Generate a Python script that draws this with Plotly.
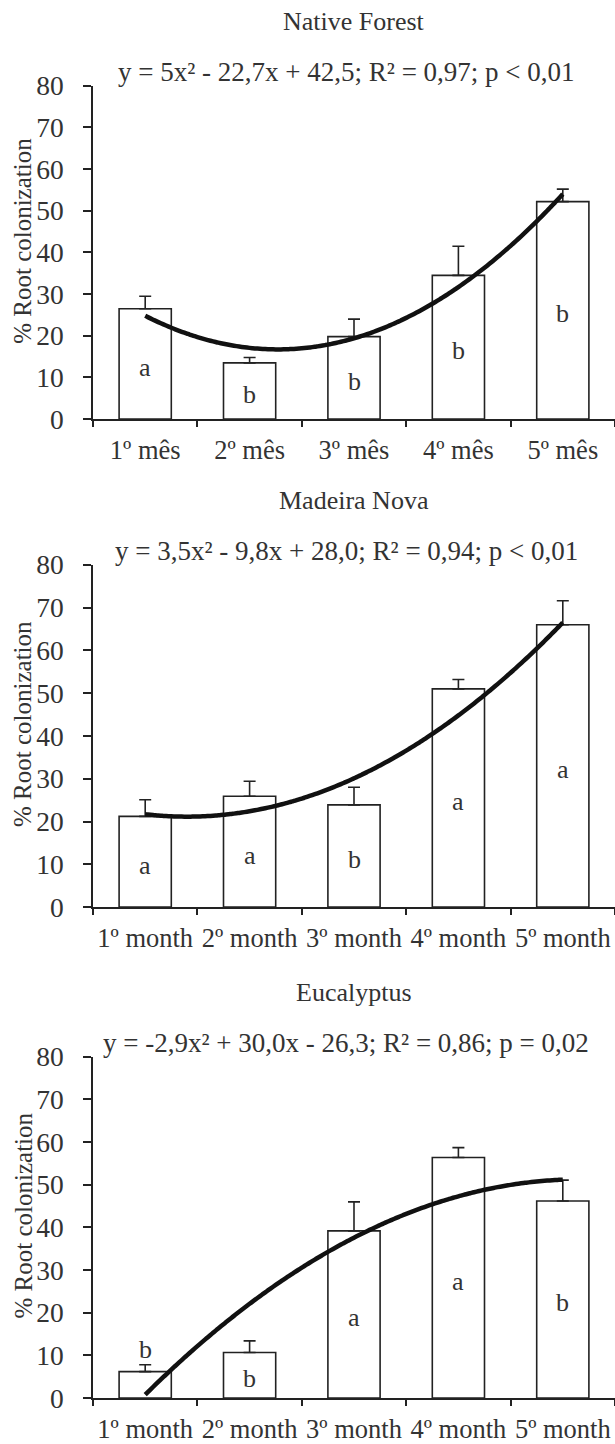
import plotly.graph_objects as go
import numpy as np

# ---------------- data ----------------
months_pt = ["1º mês", "2º mês", "3º mês", "4º mês", "5º mês"]
months_en = ["1º month", "2º month", "3º month", "4º month", "5º month"]

native_vals = [26.5, 13.5, 19.8, 34.5, 52.2]
native_err = [3.0, 1.3, 4.2, 7.0, 3.0]
native_letters = ["a", "b", "b", "b", "b"]
native_coef = [5.0, -22.7, 42.5]

madeira_vals = [21.2, 25.9, 23.9, 51.0, 66.0]
madeira_err = [3.9, 3.5, 4.1, 2.2, 5.6]
madeira_letters = ["a", "a", "b", "a", "a"]
madeira_coef = [3.5, -9.8, 28.0]

euc_vals = [6.2, 10.7, 39.2, 56.4, 46.2]
euc_err = [1.6, 2.7, 6.8, 2.3, 4.9]
euc_letters = ["b", "b", "a", "a", "b"]
euc_coef = [-2.9, 30.0, -26.3]

titles = ["Native Forest", "Madeira Nova", "Eucalyptus"]
equations = [
    "y = 5x² - 22,7x + 42,5; R² = 0,97; p < 0,01",
    "y = 3,5x² - 9,8x + 28,0; R² = 0,94; p < 0,01",
    "y = -2,9x² + 30,0x - 26,3; R² = 0,86; p = 0,02",
]
y_ticks = [0, 10, 20, 30, 40, 50, 60, 70, 80]
y_title = "% Root colonization"

panels = [
    (months_pt, native_vals, native_err, native_letters, native_coef),
    (months_en, madeira_vals, madeira_err, madeira_letters, madeira_coef),
    (months_en, euc_vals, euc_err, euc_letters, euc_coef),
]

# ---------------- layout / style ----------------
W, H = 615, 1444
L_MARGIN = 93
FONT = "Liberation Serif"
TXT = "#333333"
LINE = "#222222"
panel_px = [(86, 420), (566, 909), (1059, 1401)]  # (top, bottom) in pixels
plot_w = W - L_MARGIN


def py(px):
    return 1 - px / H


fig = go.Figure()
annotations = []
layout_axes = {}

for i, (cats, vals, err, letters, coef) in enumerate(panels):
    n = i + 1
    xa = "x" if n == 1 else f"x{n}"
    ya = "y" if n == 1 else f"y{n}"
    xpos = list(range(1, len(cats) + 1))

    fig.add_trace(go.Bar(
        x=xpos, y=vals, width=0.5, xaxis=xa, yaxis=ya,
        marker=dict(color="white", line=dict(color=LINE, width=1.6)),
        error_y=dict(type="data", symmetric=False, array=err,
                     arrayminus=[0] * len(err), color=LINE,
                     thickness=1.6, width=6),
        showlegend=False, hoverinfo="skip",
    ))
    xs = np.linspace(xpos[0], xpos[-1], 161)
    ys = np.polyval(coef, xs)
    fig.add_trace(go.Scatter(
        x=xs, y=ys, mode="lines", xaxis=xa, yaxis=ya,
        line=dict(color="#111111", width=4.5, shape="spline"),
        showlegend=False, hoverinfo="skip",
    ))

    top, bot = panel_px[i]
    xkey = "xaxis" if n == 1 else f"xaxis{n}"
    ykey = "yaxis" if n == 1 else f"yaxis{n}"
    layout_axes[xkey] = dict(
        domain=[0, 1], anchor=ya, range=[0.5, len(cats) + 0.5],
        tickmode="array", tickvals=xpos, ticktext=cats, ticks="",
        showline=True, linecolor=LINE, linewidth=1.6,
        showgrid=False, zeroline=False,
        tickfont=dict(family=FONT, size=26.5, color=TXT),
        ticklabelstandoff=6,
        minor=dict(tickmode="array",
                   tickvals=[k + 0.5 for k in range(len(cats) + 1)],
                   ticks="outside", ticklen=6, tickwidth=1.6,
                   tickcolor=LINE, showgrid=False),
    )
    layout_axes[ykey] = dict(
        domain=[py(bot), py(top)], anchor=xa, range=[0, 80],
        tickmode="array", tickvals=y_ticks, ticks="outside",
        ticklen=8, tickwidth=1.6, tickcolor=LINE,
        showline=True, linecolor=LINE, linewidth=1.6,
        showgrid=False, zeroline=False,
        tickfont=dict(family=FONT, size=27.5, color=TXT),
        ticklabelstandoff=14,
        automargin=False,
    )

    xdom = "x domain" if n == 1 else f"x{n} domain"
    ydom = "y domain" if n == 1 else f"y{n} domain"
    # y-axis title
    annotations.append(dict(
        text=y_title, x=(23 - L_MARGIN) / plot_w, xref="paper",
        y=0.535, yref=ydom, textangle=-90, showarrow=False,
        xanchor="center", yanchor="middle",
        font=dict(family=FONT, size=25, color=TXT)))
    # title and equation
    annotations.append(dict(
        text=titles[i], x=0.5, xref=xdom,
        y=py(top - 64), yref="paper", showarrow=False,
        xanchor="center", yanchor="middle",
        font=dict(family=FONT, size=26, color=TXT)))
    annotations.append(dict(
        text=equations[i], x=0.485, xref=xdom,
        y=py(top - 14), yref="paper", showarrow=False,
        xanchor="center", yanchor="middle",
        font=dict(family=FONT, size=27, color=TXT)))

    # significance letters
    for j, (v, e, L) in enumerate(zip(vals, err, letters)):
        ly = v + e + 3.5 if v < 8 else v / 2 - 0.8
        annotations.append(dict(
            text=L, x=xpos[j], y=ly, xref=xa, yref=ya, showarrow=False,
            xanchor="center", yanchor="middle",
            font=dict(family=FONT, size=26, color=TXT)))

fig.update_layout(
    width=W, height=H,
    margin=dict(l=L_MARGIN, r=0, t=0, b=0),
    plot_bgcolor="white", paper_bgcolor="white",
    annotations=annotations,
    bargap=0.5,
    **layout_axes,
)

fig.write_html(
    "out.html",
    config={"displayModeBar": False},
    post_script="document.body.style.margin='0px';document.body.style.overflow='hidden';",
)
